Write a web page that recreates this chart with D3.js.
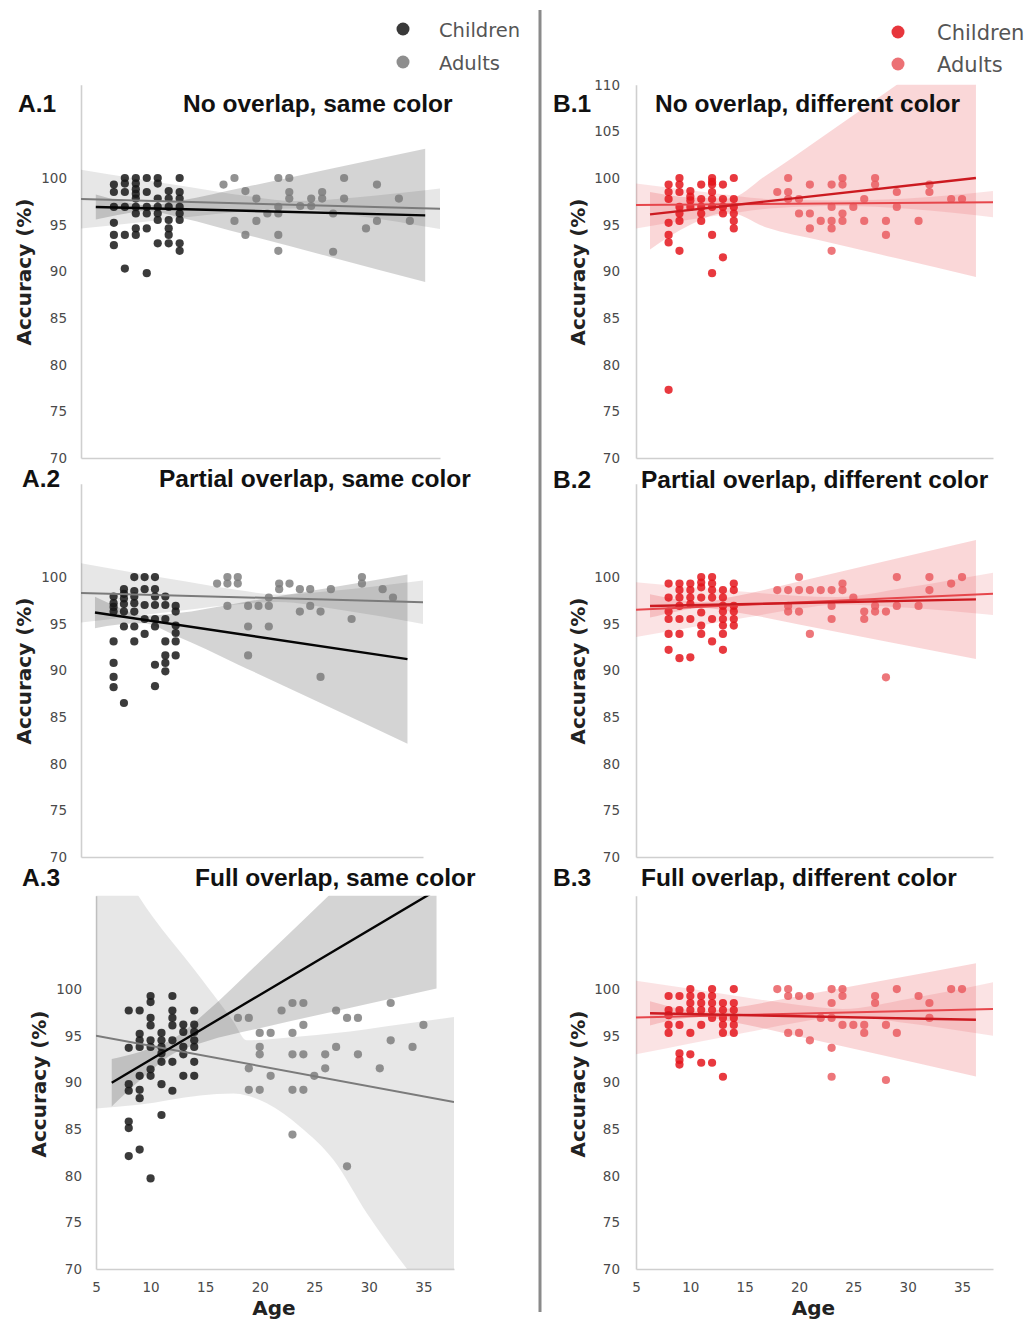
<!DOCTYPE html>
<html><head><meta charset="utf-8">
<script src="https://cdn.jsdelivr.net/npm/d3@7"></script>
<style>body{margin:0;background:#fff} svg{display:block}</style>
</head><body><svg id="chart" width="1029" height="1319"></svg>
<script>
// ---------------- DATA (age -> list of accuracies) ----------------
const a1Children = [[8,[99.3,98.5,96.9,95.2,93.9,92.8]],[9,[100,99.4,98.5,96.9,93.9,90.3]],[10,[100,99.4,98.8,98.3,97.8,96.9,96.2,94.6,93.9]],[11,[100,98.5,96.9,96.2,94.6,89.8]],[12,[100,99.4,97.8,96.9,96.2,95.5,93.0]],[13,[98.6,97.8,96.9,95.5,94.6,93.9,93.0]],[14,[100,98.5,97.8,96.9,96.2,95.5,93.0,92.2]]];
const a1Adults = [[18,[99.3]],[19,[100,95.4]],[20,[98.6,93.9]],[21,[97.8,95.4]],[22,[96.2]],[23,[100,96.9,96.2,93.9,92.2]],[24,[100,98.5,97.8]],[25,[97.0]],[26,[97.8,97.0]],[27,[98.5,97.8]],[28,[96.2,92.1]],[29,[100,97.8]],[31,[94.6]],[32,[99.3,95.4]],[34,[97.8]],[35,[95.4]]];
const a2Children = [[8,[97.9,97.2,96.8,96.3,93.1,90.8,89.3,88.2]],[9,[98.7,98.2,97.7,97.1,96.3,94.7,86.5]],[10,[100,98.5,97.9,97.2,96.3,94.7,93.1]],[11,[100,98.7,97.0,95.5,93.9]],[12,[100,98.7,97.9,97.0,95.5,94.7,90.6,88.3]],[13,[97.9,97.0,95.5,93.1,91.6,90.8,89.9]],[14,[96.9,96.3,94.8,94.0,93.1,91.6]]];
const a2Adults = [[18,[99.3]],[19,[100,99.3,96.9]],[20,[100,99.3]],[21,[96.9,94.7,91.6]],[22,[96.9]],[23,[97.8,96.9,94.7]],[24,[99.3,98.7]],[25,[99.3]],[26,[98.7,96.3]],[27,[98.7,96.9]],[28,[96.3,89.3]],[29,[98.7]],[31,[95.5]],[32,[100,99.3]],[34,[98.7]],[35,[97.8]]];
const a3Children = [[8,[97.7,93.7,89.8,89.1,85.8,85.1,82.1]],[9,[97.7,95.2,94.5,93.8,90.7,89.2,88.3,82.8]],[10,[99.25,98.6,96.9,96.1,94.5,93.8,91.4,90.7,79.7]],[11,[95.3,94.5,93.8,93.1,92.2,89.8,86.5]],[12,[99.25,97.7,96.9,96.1,94.5,92.2,89.1]],[13,[96.2,95.4,93.8,93.0,90.7]],[14,[97.7,96.2,95.4,94.5,93.8,92.2,90.7]]];
const a3Adults = [[18,[96.9]],[19,[96.9,91.5,89.2]],[20,[95.3,93.8,93.0,89.2]],[21,[95.3,90.7]],[22,[97.7]],[23,[98.5,95.3,93.0,89.2,84.4]],[24,[98.5,96.15,93.0,89.2]],[25,[90.7]],[26,[93.0,91.5]],[27,[97.7,93.8]],[28,[96.9,81.0]],[29,[96.9,93.0]],[31,[91.5]],[32,[98.5,94.5]],[34,[93.8]],[35,[96.15]]];
const b1Children = [[8,[99.3,98.5,97.75,95.2,93.9,93.1,77.3]],[9,[100,99.3,98.5,96.9,96.2,95.4,92.2]],[10,[98.6,98.0,97.6,96.9]],[11,[99.3,97.75,96.9,96.2,95.4]],[12,[100,99.6,99.3,98.5,97.75,96.9,93.9,89.8]],[13,[99.3,97.75,96.9,96.2,91.5]],[14,[100,97.75,96.9,96.2,95.4,94.6]]];
const b1Adults = [[18,[98.5]],[19,[100,98.5,97.75]],[20,[97.75,96.2]],[21,[99.3,96.2,94.6]],[22,[95.4]],[23,[99.3,96.9,95.4,94.6,92.2]],[24,[100,99.3,96.2,95.4]],[25,[96.9]],[26,[97.75,95.4]],[27,[100,99.3]],[28,[95.4,93.9]],[29,[98.5,96.9]],[31,[95.4]],[32,[99.3,98.5]],[34,[97.75]],[35,[97.75]]];
const b2Children = [[8,[99.3,97.8,96.3,95.5,93.9,92.2]],[9,[99.3,98.6,97.8,96.9,95.5,93.9,91.3]],[10,[99.3,98.6,97.8,97.1,95.5,91.4]],[11,[100,99.4,98.9,97.8,96.2,94.8,93.9]],[12,[100,99.3,98.6,97.8,95.5,93.1]],[13,[98.6,97.8,96.9,96.3,95.5,94.8,93.9,92.2]],[14,[99.3,98.6,96.9,96.3,95.5,94.8]]];
const b2Adults = [[18,[98.6]],[19,[98.6,96.9,96.3]],[20,[100,98.6,96.3]],[21,[98.6,93.9]],[22,[98.6]],[23,[98.6,96.9,95.5]],[24,[99.3,98.6]],[25,[97.8]],[26,[96.3,95.5]],[27,[96.9,96.3]],[28,[96.3,89.25]],[29,[100,96.9]],[31,[96.9]],[32,[100,98.6]],[34,[99.3]],[35,[100]]];
const b3Children = [[8,[99.25,97.75,97.2,96.15,95.3]],[9,[99.25,97.75,96.15,93.1,92.4,91.9]],[10,[100,99.25,98.5,97.75,95.3,93.0]],[11,[99.25,98.5,97.75,96.15,92.1]],[12,[100,99.25,98.5,97.75,96.9,92.1]],[13,[98.5,97.75,96.9,96.15,95.3,90.6]],[14,[100,98.5,97.75,96.9,96.15,95.3]]];
const b3Adults = [[18,[100]],[19,[100,99.25,95.3]],[20,[99.25,95.3]],[21,[99.25,94.5]],[22,[96.9]],[23,[100,98.5,96.9,93.7,90.6]],[24,[100,99.25,96.15]],[25,[96.15]],[26,[96.15,95.3]],[27,[99.25,98.5]],[28,[96.15,90.25]],[29,[100,95.3]],[31,[99.25]],[32,[98.5,96.9]],[34,[100]],[35,[100]]];

// regression lines [age, accuracy] endpoints
const a1ChildLine = [[6.35,96.9],[36.4,96.0]], a1AdultLine = [[5,97.75],[37.75,96.7]];
const a2ChildLine = [[6.2,96.2],[36.4,91.2]], a2AdultLine = [[4.85,98.3],[37.9,97.3]];
const a3ChildLine = [[6.44,89.96],[36.2,110.6]], a3AdultLine = [[5,95.0],[37.8,87.9]];
const b1ChildLine = [[6.29,96.1],[36.28,100.0]], b1AdultLine = [[5,97.1],[37.85,97.4]];
const b2ChildLine = [[6.29,96.9],[36.28,97.6]], b2AdultLine = [[5,96.5],[37.85,98.2]];
const b3ChildLine = [[6.29,97.4],[36.28,96.7]], b3AdultLine = [[5,96.95],[37.85,97.85]];

// confidence bands
const a1ChildBand = {age:[6.35,9,11,14,20,28,36.4], lo:[95.56,96.18,96.46,95.78,93.94,91.46,88.86], hi:[98.24,97.46,97.06,97.56,99.04,101.04,103.14]};
const a1AdultBand = {age:[5,10,15,20,24.5,30,37.75], lo:[94.6,95.22,95.84,96.44,96.73,95.98,94.53], hi:[100.9,99.96,99.02,98.1,97.53,97.92,98.87]};
const a2ChildBand = {age:[6.2,8.5,10.8,14,20,28,36.4], lo:[94.52,94.91,95.04,93.71,90.64,86.49,82.13], hi:[97.88,96.73,95.84,96.11,97.2,98.69,100.27]};
const a2AdultBand = {age:[4.85,10,15,20,23.9,30,37.9], lo:[95.13,95.81,96.47,97.08,97.32,96.46,94.97], hi:[101.47,100.47,99.51,98.6,98.12,98.62,99.63]};
const a3ChildBand = {age:[6.44,9,12,15,20,27,36.2], lo:[87.42,90.2,93.01,94.36,95.8,97.65,100.05], hi:[92.5,93.26,94.61,97.42,102.92,110.77,121.11]};
const a3AdultBand = {age:[5,8.88,14.53,17.6,18.8,20.65,23.7,26.75,29.8,33.5,37.8], lo:[87.2,87.6,88.6,88.8,88.6,87.75,85.25,81.7,76.0,70.0,64.0], hi:[118,110,101.3,96.5,94.5,94.6,94.9,95.25,95.7,96.3,97.0]};
const b1ChildBand = {age:[6.29,10,13.5,17,22,29,36.28], lo:[92.35,95.0,96.3,94.7,93.3,91.4,89.4], hi:[98.5,97.9,97.8,100.3,104.3,110,116]};
const b1AdultBand = {age:[5,12,18,24,30,37.85], lo:[94.6,95.9,96.8,97.0,96.7,95.8], hi:[99.4,98.4,97.7,97.6,97.8,98.6]};
const b2ChildBand = {age:[6.29,9,11,14,20,28,36.28], lo:[95.65,96.37,96.71,96.26,94.92,93.1,91.22], hi:[98.15,97.55,97.31,97.9,99.52,101.72,103.98]};
const b2AdultBand = {age:[5,10,15,20,23.5,30,37.85], lo:[93.57,94.6,95.63,96.6,97.06,96.7,95.94], hi:[99.43,98.92,98.41,97.96,97.86,98.9,100.46]};
const b3ChildBand = {age:[6.29,9,11,14,20,28,36.28], lo:[96.1,96.78,96.99,96.44,94.91,92.82,90.64], hi:[98.7,97.9,97.59,98.0,99.25,100.96,102.76]};
const b3AdultBand = {age:[5,10,15,20,24,30,37.85], lo:[93.0,94.15,95.31,96.44,97.07,96.32,94.98], hi:[100.9,100.03,99.13,98.28,97.87,98.94,100.72]};

const yTicks = [70,75,80,85,90,95,100];
const yTicksB1 = [70,75,80,85,90,95,100,105,110];
const xTicks = [5,10,15,20,25,30,35];
const legendLabels = ["Children","Adults"];

const panels = [
  {id:"A.1", title:"No overlap, same color", pal:"grey", children:a1Children, adults:a1Adults, childLine:a1ChildLine, adultLine:a1AdultLine, childBand:a1ChildBand, adultBand:a1AdultBand, yTicks:yTicks},
  {id:"A.2", title:"Partial overlap, same color", pal:"grey", children:a2Children, adults:a2Adults, childLine:a2ChildLine, adultLine:a2AdultLine, childBand:a2ChildBand, adultBand:a2AdultBand, yTicks:yTicks},
  {id:"A.3", title:"Full overlap, same color", pal:"grey", children:a3Children, adults:a3Adults, childLine:a3ChildLine, adultLine:a3AdultLine, childBand:a3ChildBand, adultBand:a3AdultBand, yTicks:yTicks, xTicks:xTicks},
  {id:"B.1", title:"No overlap, different color", pal:"red", children:b1Children, adults:b1Adults, childLine:b1ChildLine, adultLine:b1AdultLine, childBand:b1ChildBand, adultBand:b1AdultBand, yTicks:yTicksB1},
  {id:"B.2", title:"Partial overlap, different color", pal:"red", children:b2Children, adults:b2Adults, childLine:b2ChildLine, adultLine:b2AdultLine, childBand:b2ChildBand, adultBand:b2AdultBand, yTicks:yTicks},
  {id:"B.3", title:"Full overlap, different color", pal:"red", children:b3Children, adults:b3Adults, childLine:b3ChildLine, adultLine:b3AdultLine, childBand:b3ChildBand, adultBand:b3AdultBand, yTicks:yTicks, xTicks:xTicks}
];

// ---------------- LAYOUT & STYLE ----------------
const layouts = {
  "A.1": {left:81, right:440, top:84.7, bottom:458, xDomain:[5,37.75], idX:18, titleX:183, titleY:112, yLabX:31, yLabY:272, pad:14},
  "A.2": {left:81, right:423, top:483.7, bottom:857, xDomain:[4.85,37.9], idX:22, titleX:159, titleY:487, yLabX:31, yLabY:671, pad:14},
  "A.3": {left:96, right:454, top:895.7, bottom:1269, xDomain:[5,37.8], idX:22, titleX:195, titleY:886, yLabX:46, yLabY:1084, pad:14},
  "B.1": {left:636, right:993, top:84.7, bottom:458, xDomain:[5,37.85], idX:553, titleX:655, titleY:112, yLabX:585, yLabY:272, pad:16},
  "B.2": {left:636, right:993, top:483.7, bottom:857, xDomain:[5,37.85], idX:553, titleX:641, titleY:488, yLabX:585, yLabY:671, pad:16},
  "B.3": {left:636, right:993, top:895.7, bottom:1269, xDomain:[5,37.85], idX:553, titleX:641, titleY:886, yLabX:585, yLabY:1084, pad:16}
};
const palettes = {
  grey: {child:"#161616", adult:"#7a7a7a", childLine:"#050505", adultLine:"#7b7b7b", childBand:"#000000", adultBand:"#7a7a7a", childBandOp:0.17, adultBandOp:0.18},
  red:  {child:"#e3131a", adult:"#e9585d", childLine:"#cc1a20", adultLine:"#e6464b", childBand:"#e3131a", adultBand:"#e9585d", childBandOp:0.17, adultBandOp:0.17}
};

const svg = d3.select("#chart");
svg.append("rect").attr("width",1029).attr("height",1319).attr("fill","#fff");
const defs = svg.append("defs");

function flat(groups){ return groups.flatMap(([a,vals]) => vals.map(v => [a,v])); }
function bandRows(b){ return b.age.map((a,k) => [a, b.lo[k], b.hi[k]]); }

panels.forEach((p, i) => {
  const L = layouts[p.id], C = palettes[p.pal];
  const x = d3.scaleLinear().domain(L.xDomain).range([L.left, L.right]);
  const y = d3.scaleLinear().domain([70,110]).range([L.bottom, L.top]);
  const g = svg.append("g");
  const clipId = "clip" + i;
  defs.append("clipPath").attr("id", clipId).append("rect")
    .attr("x", L.left).attr("y", L.top).attr("width", L.right - L.left).attr("height", L.bottom - L.top);

  // axes
  const ya = g.append("g").attr("transform", `translate(${L.left},0)`)
    .call(d3.axisLeft(y).tickValues(p.yTicks).tickSize(0).tickSizeOuter(0).tickPadding(L.pad));
  const xa = g.append("g").attr("transform", `translate(0,${L.bottom})`)
    .call(d3.axisBottom(x).tickValues(p.xTicks || []).tickSize(0).tickSizeOuter(0).tickPadding(13));
  [ya, xa].forEach(a => {
    a.select(".domain").attr("stroke", "#cfcfcf").attr("stroke-width", 1.6);
    a.selectAll("text").attr("font-family", "'DejaVu Sans', sans-serif").attr("font-size", 13.5).attr("fill", "#4a4a4a");
  });

  // bands
  const area = d3.area().x(d => x(d[0])).y0(d => y(d[1])).y1(d => y(d[2])).curve(d3.curveMonotoneX);
  const bandG = g.append("g").attr("clip-path", `url(#${clipId})`);
  bandG.append("path").datum(bandRows(p.adultBand)).attr("d", area).attr("fill", C.adultBand).attr("fill-opacity", C.adultBandOp);
  bandG.append("path").datum(bandRows(p.childBand)).attr("d", area).attr("fill", C.childBand).attr("fill-opacity", C.childBandOp);

  // dots
  g.append("g").selectAll("circle").data(flat(p.adults)).join("circle")
    .attr("cx", d => x(d[0])).attr("cy", d => y(d[1])).attr("r", 4.1)
    .attr("fill", C.adult).attr("fill-opacity", 0.82);
  g.append("g").selectAll("circle").data(flat(p.children)).join("circle")
    .attr("cx", d => x(d[0])).attr("cy", d => y(d[1])).attr("r", 4.1)
    .attr("fill", C.child).attr("fill-opacity", 0.84);

  // regression lines
  const line = d3.line().x(d => x(d[0])).y(d => y(d[1]));
  const lineG = g.append("g").attr("clip-path", `url(#${clipId})`);
  lineG.append("path").datum(p.adultLine).attr("d", line).attr("stroke", C.adultLine).attr("stroke-width", 2).attr("fill", "none");
  lineG.append("path").datum(p.childLine).attr("d", line).attr("stroke", C.childLine).attr("stroke-width", 2.4).attr("fill", "none");

  // titles
  g.append("text").attr("x", L.idX).attr("y", L.titleY).text(p.id)
    .attr("font-family", "'Liberation Sans', Arial, sans-serif").attr("font-weight", "bold").attr("font-size", 24.5).attr("fill", "#111");
  g.append("text").attr("x", L.titleX).attr("y", L.titleY).text(p.title)
    .attr("font-family", "'Liberation Sans', Arial, sans-serif").attr("font-weight", "bold").attr("font-size", 24.5).attr("fill", "#111");

  // y label
  g.append("text").attr("transform", `translate(${L.yLabX},${L.yLabY}) rotate(-90)`)
    .attr("text-anchor", "middle").text("Accuracy (%)")
    .attr("font-family", "'DejaVu Sans', sans-serif").attr("font-weight", "bold").attr("font-size", 20).attr("fill", "#222");

  if (p.xTicks) {
    g.append("text").attr("x", (L.left + L.right) / 2 - 1).attr("y", 1315).attr("text-anchor", "middle").text("Age")
      .attr("font-family", "'DejaVu Sans', sans-serif").attr("font-weight", "bold").attr("font-size", 20).attr("fill", "#222");
  }
});

// divider
svg.append("line").attr("x1", 540).attr("x2", 540).attr("y1", 10).attr("y2", 1312).attr("stroke", "#8a8a8a").attr("stroke-width", 3);

// legends
const legends = [
  {cx:403, tx:439, y0:29, dy:33, size:19.5, colors:[palettes.grey.child, palettes.grey.adult]},
  {cx:898, tx:937, y0:32, dy:32, size:21, colors:[palettes.red.child, palettes.red.adult]}
];
legends.forEach(lg => {
  legendLabels.forEach((lab, k) => {
    svg.append("circle").attr("cx", lg.cx).attr("cy", lg.y0 + k * lg.dy).attr("r", 6.5).attr("fill", lg.colors[k]).attr("fill-opacity", 0.85);
    svg.append("text").attr("x", lg.tx).attr("y", lg.y0 + k * lg.dy + 7.5).text(lab)
      .attr("font-family", "'DejaVu Sans', sans-serif").attr("font-size", lg.size).attr("fill", "#555");
  });
});
</script></body></html>
